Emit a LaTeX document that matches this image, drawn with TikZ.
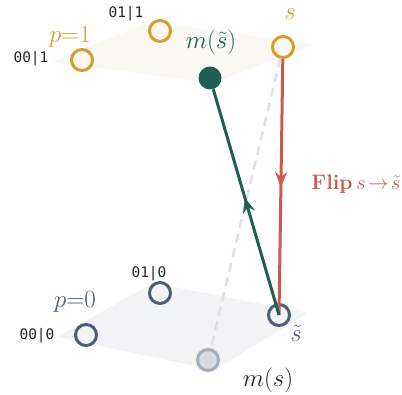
\documentclass[tikz,border=0pt]{standalone}
\usepackage{fontspec}
\setmonofont{DejaVu Sans Mono}
\usetikzlibrary{arrows.meta,decorations.markings}
\definecolor{orng}{HTML}{D99A2E}
\definecolor{slate}{HTML}{4A5E78}
\definecolor{grn}{HTML}{1E5F52}
\definecolor{redc}{HTML}{CB5A4A}
\definecolor{topfill}{HTML}{FAF8F2}
\definecolor{botfill}{HTML}{F1F3F5}
\definecolor{dashc}{HTML}{DEE0E6}
\definecolor{msfill}{HTML}{D8DCE2}
\definecolor{msdraw}{HTML}{A3ADB8}
\definecolor{ink}{HTML}{222222}
\begin{document}
\begin{tikzpicture}[x=1pt,y=-1pt,
  ring/.style={circle,draw,line width=3pt,minimum size=21pt,inner sep=0pt},
  lab/.style={font=\fontsize{25}{28}\selectfont,inner sep=1pt},
  code/.style={font=\ttfamily\fontsize{14.5}{17}\selectfont,text=ink,inner sep=1pt},
  conn/.style={line width=3pt},
  midarrow/.style={postaction={decorate},decoration={markings,mark=at position #1 with {\arrow{Stealth[length=15pt,width=12pt,inset=5pt]}}}}
]
\useasboundingbox (0,0) rectangle (402,395);
% planes
\fill[topfill] (52,62) -- (149,22) -- (313,44) -- (214,83) -- cycle;
\fill[botfill] (57,337) -- (153,283) -- (308,313) -- (214,370) -- cycle;
% bottom plane nodes
\node[ring,draw=slate] (b00) at (86,335) {};
\node[ring,draw=slate] (b01) at (160,293) {};
\node[ring,draw=slate] (st) at (279,315) {};
\node[circle,draw=msdraw,fill=msfill,line width=3pt,minimum size=21pt,inner sep=0pt] (ms) at (208,360) {};
% top plane nodes
\node[ring,draw=orng] (t00) at (82,60) {};
\node[ring,draw=orng] (t01) at (160,31) {};
\node[ring,draw=orng] (s) at (283,47) {};
\node[circle,fill=grn,minimum size=23pt,inner sep=0pt] (mst) at (210,78) {};
% connectors
\draw[dashc,line width=2.5pt,dash pattern=on 9pt off 6pt] (s) -- (ms);
\draw[conn,redc,midarrow=0.5] (s) -- (st.center);
\draw[conn,grn,midarrow=0.52] (st.center) -- (mst);
% labels
\node[code] (l01t) at (126,14) {01|1};
\node[code] (l00t) at (31,59) {00|1};
\node[lab,text=orng] (p1) at (70,37) {$p{=}1$};
\node[lab,text=orng] (ls) at (290,14) {$s$};
\node[lab,text=grn] (lmst) at (211,42) {$m(\tilde{s})$};
\node[code] (l01b) at (149,274) {01|0};
\node[code] (l00b) at (37,336) {00|0};
\node[lab,text=slate] (p0) at (75,302) {$p{=}0$};
\node[lab,text=slate] (lst) at (296,333) {$\tilde{s}$};
\node[lab,text=ink] (lms) at (268,380) {$m(s)$};
\node[lab,text=redc,font=\fontsize{21}{24}\selectfont] (flip) at (356,184) {\textbf{Flip}\,$s\!\to\!\tilde{s}$};
\end{tikzpicture}
\end{document}
